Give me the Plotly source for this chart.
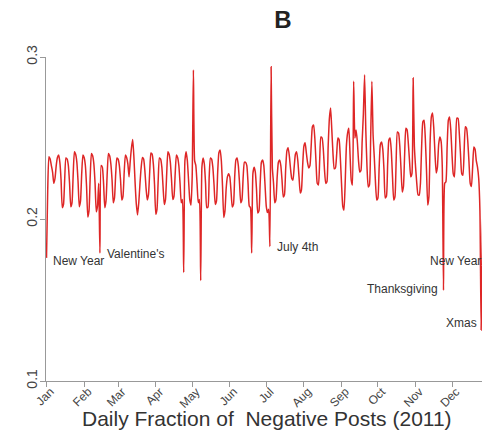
import pandas as pd
import plotly.graph_objects as go

months = ["Jan", "Feb", "Mar", "Apr", "May", "Jun", "Jul", "Aug", "Sep", "Oct", "Nov", "Dec"]

jan = [0.176, 0.218, 0.2385, 0.237, 0.233, 0.229, 0.222,
       0.225, 0.233, 0.238, 0.2395, 0.235, 0.224, 0.207,
       0.209, 0.225, 0.2377, 0.237, 0.233, 0.222, 0.2076,
       0.210, 0.228, 0.2415, 0.240, 0.235, 0.223, 0.2076,
       0.211, 0.228, 0.2395]
feb = [0.238, 0.233, 0.220, 0.2012, 0.205, 0.226, 0.2405,
       0.239, 0.234, 0.222, 0.2045, 0.208, 0.222, 0.179,
       0.233, 0.232, 0.222, 0.207, 0.211, 0.228, 0.2405,
       0.239, 0.234, 0.224, 0.210, 0.213, 0.228, 0.2377]
mar = [0.237, 0.233, 0.224, 0.2117, 0.214, 0.229, 0.2395,
       0.238, 0.234, 0.226, 0.236, 0.244, 0.249, 0.238,
       0.222, 0.209, 0.2025, 0.210, 0.222, 0.232, 0.238,
       0.237, 0.230, 0.219, 0.2117, 0.215, 0.229, 0.2407,
       0.240, 0.234, 0.221]
apr = [0.203, 0.206, 0.224, 0.2377, 0.237, 0.232, 0.220,
       0.209, 0.212, 0.228, 0.2415, 0.240, 0.235, 0.224,
       0.212, 0.214, 0.228, 0.2395, 0.238, 0.233, 0.222,
       0.210, 0.212, 0.167, 0.236, 0.2415, 0.236, 0.224,
       0.212, 0.2086]
may = [0.226, 0.292, 0.236, 0.233, 0.222, 0.210, 0.212,
       0.162, 0.232, 0.2377, 0.234, 0.222, 0.207, 0.2074,
       0.226, 0.2377, 0.237, 0.232, 0.221, 0.209, 0.211,
       0.229, 0.241, 0.2426, 0.236, 0.220, 0.201, 0.205,
       0.219, 0.226, 0.228]
jun = [0.226, 0.217, 0.2074, 0.209, 0.226, 0.2365, 0.2377,
       0.233, 0.222, 0.210, 0.212, 0.226, 0.235, 0.235,
       0.233, 0.222, 0.208, 0.207, 0.179, 0.228, 0.232,
       0.229, 0.218, 0.2037, 0.205, 0.222, 0.235, 0.2364,
       0.233, 0.221]
jul = [0.208, 0.204, 0.206, 0.183, 0.294, 0.232, 0.222,
       0.210, 0.212, 0.226, 0.235, 0.2364, 0.233, 0.224,
       0.2136, 0.215, 0.231, 0.242, 0.244, 0.239, 0.231,
       0.225, 0.224, 0.232, 0.240, 0.2415, 0.236, 0.226,
       0.216, 0.218, 0.233]
aug = [0.245, 0.247, 0.241, 0.235, 0.2315, 0.233, 0.245,
       0.257, 0.258, 0.250, 0.235, 0.222, 0.221, 0.236,
       0.2506, 0.250, 0.243, 0.230, 0.222, 0.223, 0.245,
       0.262, 0.2685, 0.255, 0.240, 0.231, 0.2315, 0.240,
       0.250, 0.249, 0.238]
sep = [0.222, 0.208, 0.2055, 0.222, 0.245, 0.253, 0.256,
       0.240, 0.224, 0.221, 0.285, 0.250, 0.255, 0.248,
       0.236, 0.229, 0.230, 0.248, 0.265, 0.289, 0.255,
       0.232, 0.2198, 0.221, 0.250, 0.285, 0.252, 0.238,
       0.222, 0.2117]
oct_ = [0.213, 0.232, 0.246, 0.2475, 0.243, 0.230, 0.213,
        0.214, 0.234, 0.2488, 0.250, 0.242, 0.226, 0.2117,
        0.2136, 0.236, 0.2537, 0.253, 0.245, 0.231, 0.2167,
        0.220, 0.240, 0.256, 0.255, 0.247, 0.236, 0.226,
        0.228, 0.287, 0.245]
nov = [0.232, 0.222, 0.215, 0.2148, 0.222, 0.245, 0.260,
       0.261, 0.250, 0.230, 0.2086, 0.214, 0.248, 0.263,
       0.2654, 0.256, 0.240, 0.2284, 0.232, 0.246, 0.2506,
       0.248, 0.232, 0.156, 0.222, 0.223, 0.245, 0.261,
       0.263, 0.255]
dec = [0.240, 0.228, 0.226, 0.245, 0.2623, 0.262, 0.253,
       0.240, 0.228, 0.227, 0.242, 0.257, 0.256, 0.248,
       0.235, 0.222, 0.220, 0.232, 0.2444, 0.243, 0.236,
       0.232, 0.225, 0.205, 0.1315, 0.190, 0.215, 0.222,
       0.220, 0.205, 0.165]

month_values = [jan, feb, mar, apr, may, jun, jul, aug, sep, oct_, nov, dec]

dates, vals = [], []
for m, mv in enumerate(month_values, start=1):
    d = pd.date_range(f"2011-{m:02d}-01", periods=len(mv), freq="D")
    dates.extend(d)
    vals.extend(mv)

tickvals = [pd.Timestamp(f"2011-{m:02d}-01") for m in range(1, 13)]

ann_labels = ["New Year", "Valentine's", "July 4th", "New Year", "Thanksgiving", "Xmas"]

W, H = 482, 438
L, R, T, B = 46, 0, 57, 57
pw, ph = W - L - R, H - T - B


def px(x):
    return (x - L) / pw


def py(y):
    return (H - B - y) / ph


ann_pos = [(51, 261), (105, 254), (275, 247), (428, 261), (365, 289), (444, 323)]

fig = go.Figure()
fig.add_trace(go.Scatter(
    x=dates, y=vals, mode="lines",
    line=dict(color="rgb(222,38,38)", width=1.5, shape="spline", smoothing=0.5),
    hoverinfo="skip", showlegend=False,
))

annotations = []
for txt, (ax, ay) in zip(ann_labels, ann_pos):
    annotations.append(dict(
        x=px(ax), y=py(ay), xref="paper", yref="paper", text=txt,
        showarrow=False, xanchor="left", yanchor="middle",
        font=dict(family="Arial, Liberation Sans", size=12, color="#333333"),
    ))
annotations.append(dict(
    x=px(267), y=py(418), xref="paper", yref="paper",
    text="Daily Fraction of\u00a0 Negative Posts (2011)",
    showarrow=False, xanchor="center", yanchor="middle",
    font=dict(family="Arial, Liberation Sans", size=21, color="#333333"),
))

fig.update_layout(
    width=W, height=H,
    margin=dict(l=L, r=R, t=T, b=B, pad=0),
    paper_bgcolor="white", plot_bgcolor="white",
    title=dict(text="<b>B</b>", x=283 / W, xref="container", xanchor="center",
               y=1 - 20 / H, yref="container", yanchor="middle",
               font=dict(family="Arial, Liberation Sans", size=24, color="#222222")),
    xaxis=dict(
        range=[pd.Timestamp("2011-01-01") - pd.Timedelta(hours=10),
               pd.Timestamp("2011-12-25 17:00")],
        tickvals=tickvals, ticktext=months, tickangle=-45,
        ticks="outside", ticklen=5, tickcolor="#999999",
        ticklabelstandoff=-7, ticklabelshift=4,
        showline=True, linecolor="#999999", linewidth=1,
        showgrid=False, zeroline=False,
        tickfont=dict(family="Arial, Liberation Sans", size=12, color="#444444"),
    ),
    yaxis=dict(
        range=[0.1, 0.3], tickvals=[0.1, 0.2, 0.3], ticktext=["0.1", "0.2", "0.3"],
        tickangle=-90, ticks="outside", ticklen=5, tickcolor="#999999",
        ticklabelstandoff=-3,
        showline=True, linecolor="#999999", linewidth=1,
        showgrid=False, zeroline=False,
        tickfont=dict(family="Arial, Liberation Sans", size=14, color="#444444"),
    ),
    annotations=annotations,
)

fig.write_html(
    "out.html",
    config={"displayModeBar": False},
    post_script="document.body.style.margin='0px';document.body.style.overflow='hidden';",
)
